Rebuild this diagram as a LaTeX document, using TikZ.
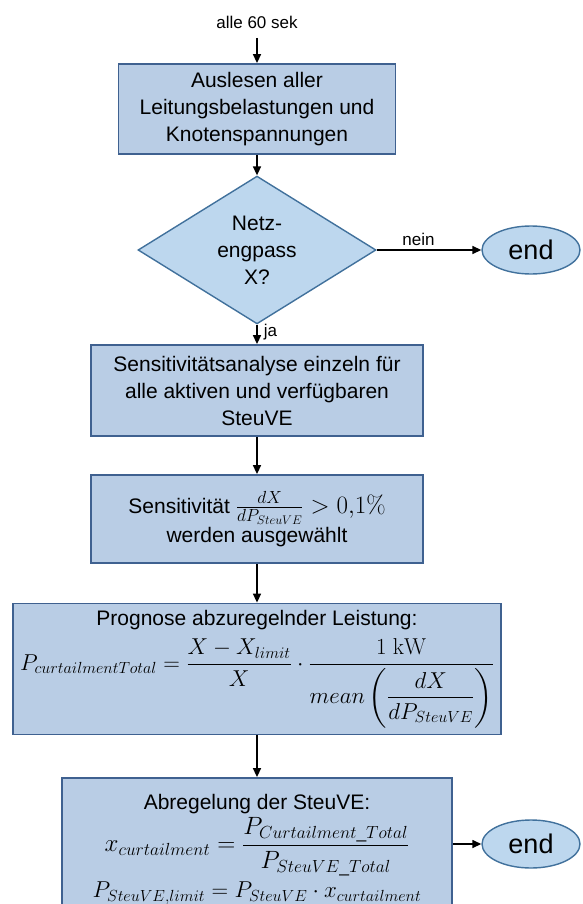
\RequirePackage{fix-cm}
\documentclass[tikz,border=0pt]{standalone}
\usepackage{amsmath}
\usepackage[no-math]{fontspec}
\setmainfont{Liberation Sans}
\usetikzlibrary{shapes.geometric,arrows.meta}
\definecolor{boxfill}{HTML}{B9CDE5}
\definecolor{boxdraw}{HTML}{3F6190}
\definecolor{dfill}{HTML}{BDD7EE}
\definecolor{ddraw}{HTML}{41719C}
\newcommand{\mathbig}[1]{{\fontsize{23}{28}\selectfont#1}}
\begin{document}
\begin{tikzpicture}[x=1pt,y=-1pt,
  box/.style={draw=boxdraw, fill=boxfill, line width=1.8pt, align=center, inner sep=0pt,
    font=\fontsize{21}{27}\selectfont},
  dec/.style={diamond, draw=ddraw, fill=dfill, line width=1.4pt, align=center, inner sep=0pt,
    font=\fontsize{21}{27}\selectfont},
  term/.style={ellipse, draw=ddraw, fill=dfill, line width=1.4pt, inner sep=0pt,
    minimum width=98pt, minimum height=48pt, font=\fontsize{27}{30}\selectfont},
  lab/.style={font=\fontsize{17}{20}\selectfont, inner sep=1pt},
  arr/.style={-{Triangle[length=9pt,width=8pt]}, line width=1.5pt, black}]
\useasboundingbox (0,0) rectangle (583,904);
\clip (0,0) rectangle (583,904);
\node[lab] (t0) at (257,22) {alle 60 sek};
\coordinate (s0) at (257,38);
\node[box, minimum width=277pt, minimum height=90pt] (b1) at (257,109)
  {Auslesen aller\\Leitungsbelastungen und\\Knotenspannungen};
\node[dec, minimum width=238pt, minimum height=138pt] (d1) at (257,250)
  {Netz-\\engpass\\X?};
\node[term] (e1) at (531,250) {end};
\node[box, minimum width=332pt, minimum height=91pt] (b3) at (257,390.5)
  {Sensitivitätsanalyse einzeln für\\alle aktiven und verfügbaren\\SteuVE};
\node[box, minimum width=332pt, minimum height=88pt] (b4) at (257,519)
  {Sensitivität {\fontsize{25}{28}\selectfont$\frac{dX}{dP_{SteuVE}} > 0{,}1\%$}\\[2pt]werden ausgewählt};
\node[box, minimum width=488pt, minimum height=131pt] (b5) at (257,669)
  {Prognose abzuregelnder Leistung:\\[8pt]
   \mathbig{$\displaystyle P_{curtailmentTotal} = \frac{X - X_{limit}}{X}\cdot\frac{1\ \mathrm{kW}}{mean\left(\dfrac{dX}{dP_{SteuVE}}\right)}$}};
\node[box, minimum width=390pt, minimum height=142pt] (b6) at (257,849)
  {Abregelung der SteuVE:\\[3pt]
   {\fontsize{25}{28}\selectfont$\displaystyle x_{curtailment} = \frac{P_{Curtailment\_Total}}{P_{SteuVE\_Total}}$}\\[5pt]
   \mathbig{$P_{SteuVE,limit} = P_{SteuVE}\cdot x_{curtailment}$}};
\node[term] (e2) at (531,844) {end};
\draw[arr] (s0) -- (b1.north);
\draw[arr] (b1.south) -- (d1.north);
\draw[arr] (d1.east) -- node[lab, above=3pt, pos=0.4] {nein} (e1.west);
\draw[arr] (d1.south) -- node[lab, right=5pt, pos=0.4] {ja} (b3.north);
\draw[arr] (b3.south) -- (b4.north);
\draw[arr] (b4.south) -- (b5.north);
\draw[arr] (b5.south) -- (b6.north);
\draw[arr] (b6.east |- e2.west) -- (e2.west);
\end{tikzpicture}
\end{document}
